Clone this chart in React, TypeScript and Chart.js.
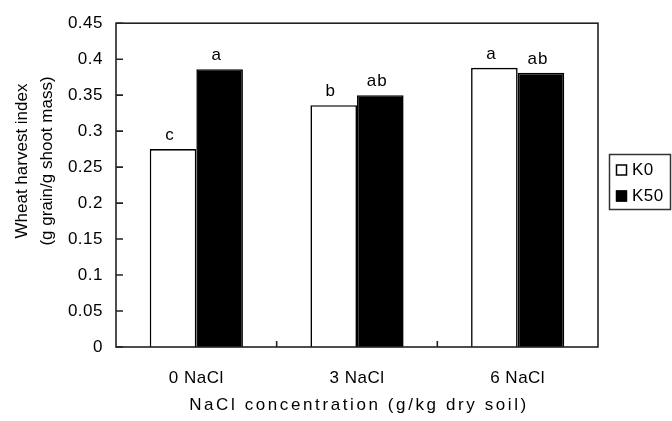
import React, { useEffect, useRef } from 'react';
import { Chart, registerables } from 'chart.js';

Chart.register(...registerables);

const categories = ['0 NaCl', '3 NaCl', '6 NaCl'];
const seriesNames = ['K0', 'K50'];
const k0Values = [0.275, 0.336, 0.388];
const k50Values = [0.386, 0.35, 0.381];
const k0Letters = ['c', 'b', 'a'];
const k50Letters = ['a', 'ab', 'ab'];
const yTicks = [0, 0.05, 0.1, 0.15, 0.2, 0.25, 0.3, 0.35, 0.4, 0.45];
const yTickLabels = ['0', '0.05', '0.1', '0.15', '0.2', '0.25', '0.3', '0.35', '0.4', '0.45'];
const yTitle = ['Wheat harvest index', '(g grain/g shoot mass)'];
const xTitle = 'NaCl concentration (g/kg dry soil)';

const FONT = '"Liberation Sans", Arial, sans-serif';

const decorPlugin = {
  id: 'decor',
  beforeDraw(chart: any) {
    const ctx = chart.ctx;
    ctx.fillStyle = '#fff';
    ctx.fillRect(0, 0, chart.width, chart.height);
    (ctx as any).letterSpacing = '0.5px';
  },
  afterDraw(chart: any) {
    const ctx = chart.ctx as CanvasRenderingContext2D;
    const { left, right, top, bottom } = chart.chartArea;
    const xs = chart.scales.x;
    const ys = chart.scales.y;
    ctx.save();
    ctx.strokeStyle = '#222';
    ctx.lineWidth = 1.6;
    ctx.strokeRect(left, top, right - left, bottom - top);
    // y ticks inward
    ctx.beginPath();
    yTicks.forEach((v) => {
      const y = ys.getPixelForValue(v);
      ctx.moveTo(left, y);
      ctx.lineTo(left + 7, y);
    });
    // x ticks at category boundaries
    for (let i = 0; i < categories.length - 1; i++) {
      const x = (xs.getPixelForValue(i) + xs.getPixelForValue(i + 1)) / 2;
      ctx.moveTo(x, bottom);
      ctx.lineTo(x, bottom - 6);
    }
    ctx.stroke();

    // significance letters
    ctx.fillStyle = '#000';
    ctx.font = `17px ${FONT}`;
    (ctx as any).letterSpacing = '1px';
    ctx.textAlign = 'center';
    ctx.textBaseline = 'alphabetic';
    const letterSets = [k0Letters, k50Letters];
    letterSets.forEach((letters, d) => {
      const meta = chart.getDatasetMeta(d);
      meta.data.forEach((bar: any, i: number) => {
        ctx.fillText(letters[i], bar.x - 3, bar.y - 9);
      });
    });

    // y title
    (ctx as any).letterSpacing = '0px';
    ctx.textBaseline = 'middle';
    const yMid = 161;
    [22, 47].forEach((x, i) => {
      ctx.save();
      ctx.translate(x, yMid);
      ctx.rotate(-Math.PI / 2);
      ctx.fillText(yTitle[i], 0, 0);
      ctx.restore();
    });

    // x title
    (ctx as any).letterSpacing = '2.6px';
    ctx.fillText(xTitle, (left + right) / 2 + 2, 405);

    // legend
    (ctx as any).letterSpacing = '0.5px';
    ctx.strokeStyle = '#333';
    ctx.lineWidth = 1.5;
    ctx.strokeRect(609.5, 154.5, 61, 55);
    const ds = chart.data.datasets;
    const rows = [170, 196];
    ds.forEach((d: any, i: number) => {
      const cy = rows[i];
      ctx.fillStyle = d.backgroundColor;
      ctx.fillRect(616, cy - 5.5, 11, 11);
      ctx.strokeStyle = '#000';
      ctx.lineWidth = 1.5;
      ctx.strokeRect(616.5, cy - 5, 10, 10);
      ctx.fillStyle = '#000';
      ctx.textAlign = 'left';
      ctx.textBaseline = 'middle';
      ctx.fillText(d.label, 632, cy);
    });
    ctx.restore();
  },
};

export default function App() {
  const ref = useRef<HTMLCanvasElement | null>(null);
  useEffect(() => {
    if (!ref.current) return;
    const chart = new Chart(ref.current, {
      type: 'bar',
      data: {
        labels: categories,
        datasets: [
          {
            label: seriesNames[0],
            data: k0Values,
            backgroundColor: '#ffffff',
            borderColor: '#000000',
            borderWidth: 1.6,
            barPercentage: 1,
            categoryPercentage: 0.58,
          },
          {
            label: seriesNames[1],
            data: k50Values,
            backgroundColor: '#000000',
            borderColor: '#000000',
            borderWidth: 1.6,
            barPercentage: 1,
            categoryPercentage: 0.58,
          },
        ],
      },
      options: {
        responsive: false,
        maintainAspectRatio: false,
        animation: false,
        devicePixelRatio: 1,
        layout: { padding: { left: 0, right: 74, top: 17, bottom: 0 } },
        plugins: {
          legend: { display: false },
          tooltip: { enabled: false },
        },
        scales: {
          x: {
            grid: { display: false, drawTicks: false },
            border: { display: false },
            ticks: {
              color: '#000',
              padding: 21,
              font: { family: FONT, size: 17 },
              maxRotation: 0,
            },
            afterFit(scale: any) {
              scale.height = 74;
            },
          },
          y: {
            min: 0,
            max: 0.45,
            grid: { display: false, drawTicks: false },
            border: { display: false },
            afterBuildTicks(scale: any) {
              scale.ticks = yTicks.map((v) => ({ value: v }));
            },
            ticks: {
              color: '#000',
              padding: 13,
              font: { family: FONT, size: 17 },
              callback: (_v: any, i: number) => yTickLabels[i],
            },
            afterFit(scale: any) {
              scale.width = 116;
            },
          },
        },
      },
      plugins: [decorPlugin],
    });
    return () => chart.destroy();
  }, []);
  return (
    <div style={{ position: 'fixed', left: 0, top: 0, width: 672, height: 421, background: '#fff' }}>
      <canvas ref={ref} width={672} height={421} style={{ display: 'block' }} />
    </div>
  );
}
